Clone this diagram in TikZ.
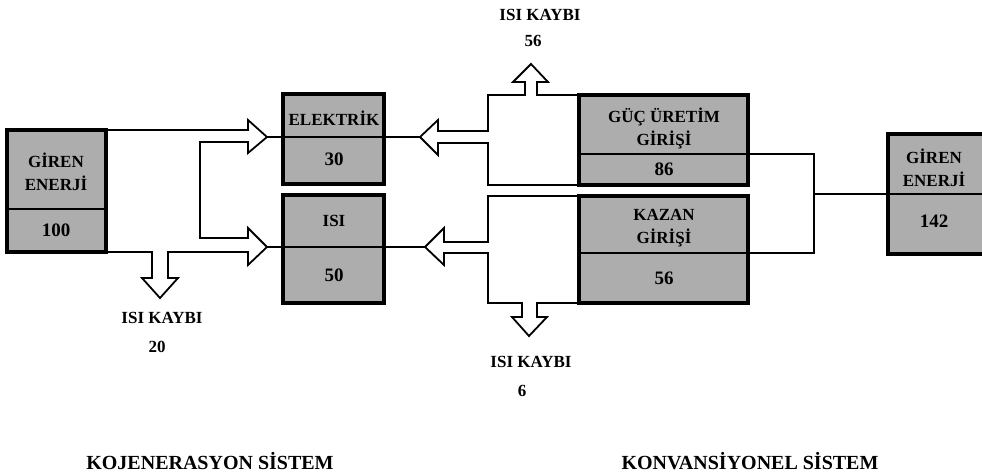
\documentclass[tikz,border=0pt]{standalone}
\usepackage{fontspec}
\setmainfont{Liberation Serif}
\begin{document}
\begin{tikzpicture}[x=1pt,y=-1pt,
  box/.style={draw, line width=3.4pt, fill=black!32, inner sep=0pt, outer sep=0pt, anchor=north west},
  conn/.style={line width=1.8pt, line join=miter},
  divl/.style={line width=2pt},
  lbl/.style={font=\bfseries\fontsize{17}{23}\selectfont, align=center, inner sep=0pt},
  num/.style={font=\bfseries\fontsize{19}{23}\selectfont, inner sep=0pt},
  loss/.style={font=\bfseries\fontsize{17}{20}\selectfont, inner sep=0pt},
  title/.style={font=\bfseries\fontsize{20}{24}\selectfont, inner sep=0pt}]
\useasboundingbox (0,0) rectangle (982,474);

% boxes
\node[box, minimum width=99pt, minimum height=122pt] (lbox) at (7,130) {};
\node[box, minimum width=101pt, minimum height=90pt] (ebox) at (283,94) {};
\node[box, minimum width=101pt, minimum height=108pt] (ibox) at (283,195) {};
\node[box, minimum width=169pt, minimum height=90pt] (gbox) at (579,95) {};
\node[box, minimum width=169pt, minimum height=107pt] (kbox) at (579,196) {};
\node[box, minimum width=110pt, minimum height=120pt] (rbox) at (888,134) {};

% dividers
\draw[divl] (7,209) -- (106,209);
\draw[divl] (888,194) -- (990,194);

% arrow tip coordinates
\coordinate (t1) at (267,137);
\coordinate (t2) at (267,247);
\coordinate (t3) at (420,137);
\coordinate (t4) at (425,247);
\coordinate (j) at (814,194);

% left (cogeneration) flow outline
\draw[conn] (lbox.north east) -- (248,130) -- (248,120) -- (t1) -- (248,153) -- (248,142)
  -- (200,142) -- (200,238) -- (248,238) -- (248,228) -- (t2) -- (248,265) -- (248,252)
  -- (168,252) -- (168,278) -- (178,278) -- (160,298) -- (142,278) -- (152,278)
  -- (152,252) -- (lbox.south east);

% through lines (dividers of output boxes)
\draw[conn] (t1) -- (t3);
\draw[conn] (t2) -- (t4);

% upper right outline
\draw[conn] (gbox.north west) -- (537,95) -- (537,82) -- (548,82) -- (531,64) -- (513,82)
  -- (525,82) -- (525,95) -- (488,95) -- (488,131) -- (438,131) -- (438,120) -- (t3)
  -- (438,155) -- (438,143) -- (488,143) -- (488,185) -- (gbox.south west);

% lower right outline
\draw[conn] (kbox.north west) -- (488,196) -- (488,242) -- (444,242) -- (444,228) -- (t4)
  -- (444,265) -- (444,253) -- (488,253) -- (488,303) -- (522,303) -- (522,317)
  -- (512,317) -- (529,336) -- (547,317) -- (537,317) -- (537,303) -- (kbox.south west);

% right connector
\draw[conn] (579,154) -- (814,154) -- (814,253) -- (579,253);
\draw[conn] (j) -- (rbox.west);

% texts
\node[lbl] (l1) at (56,172) {GİREN\\ENERJİ};
\node[num] (l2) at (56,230) {100};
\node[lbl] (e1) at (334,118) {ELEKTRİK};
\node[num] (e2) at (334,159) {30};
\node[lbl] (i1) at (334,221) {ISI};
\node[num] (i2) at (334,275) {50};
\node[lbl] (g1) at (664,128) {GÜÇ ÜRETİM\\GİRİŞİ};
\node[num] (g2) at (664,169) {86};
\node[lbl] (k1) at (664,228) {KAZAN\\GİRİŞİ};
\node[num] (k2) at (664,278) {56};
\node[lbl] (r1) at (934,168) {GİREN\\ENERJİ};
\node[num] (r2) at (934,221) {142};

\node[loss] (a1) at (540,15) {ISI KAYBI};
\node[loss] (a2) at (533,41) {56};
\node[loss] (b1) at (162,318) {ISI KAYBI};
\node[loss] (b2) at (157,347) {20};
\node[loss] (c1) at (531,362) {ISI KAYBI};
\node[loss] (c2) at (522,391) {6};

\node[title] (s1) at (210,461) {KOJENERASYON SİSTEM};
\node[title] (s2) at (750,461) {KONVANSİYONEL SİSTEM};
\end{tikzpicture}
\end{document}
